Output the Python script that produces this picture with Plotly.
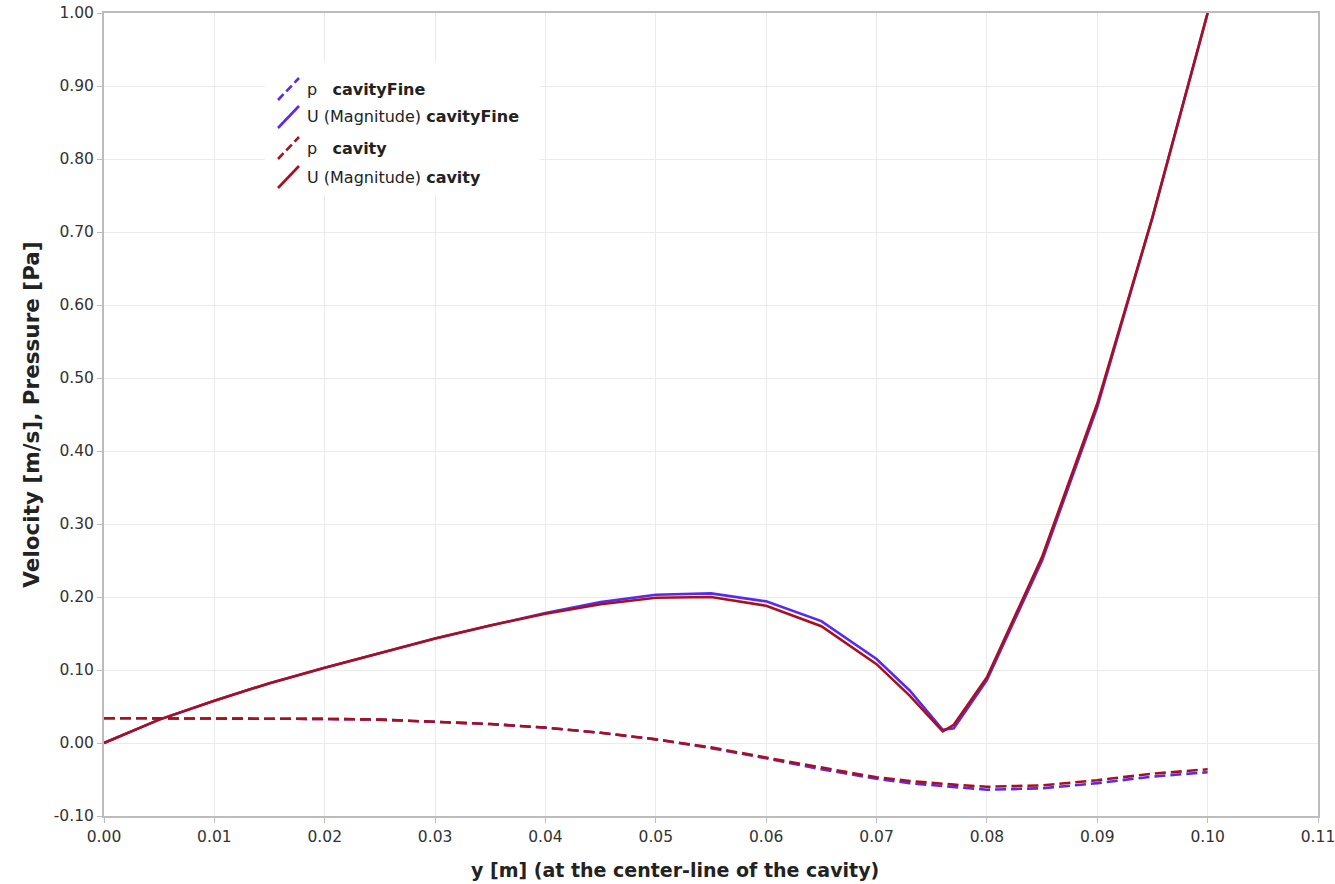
import plotly.graph_objects as go

# ---- data ----
y_pos = [0.0, 0.005, 0.01, 0.015, 0.02, 0.025, 0.03, 0.035, 0.04, 0.045, 0.05, 0.055,
         0.06, 0.065, 0.07, 0.073, 0.076, 0.077, 0.08, 0.085, 0.09, 0.095, 0.1]

u_cavity = [0.0, 0.032, 0.058, 0.082, 0.103, 0.123, 0.143, 0.161, 0.177, 0.190, 0.199, 0.200,
            0.188, 0.160, 0.108, 0.065, 0.016, 0.025, 0.090, 0.255, 0.465, 0.720, 1.000]
u_fine = [0.0, 0.032, 0.058, 0.082, 0.103, 0.123, 0.143, 0.161, 0.178, 0.193, 0.203, 0.205,
          0.194, 0.167, 0.115, 0.072, 0.018, 0.020, 0.086, 0.250, 0.460, 0.720, 1.000]

p_cavity = [0.034, 0.034, 0.034, 0.034, 0.033, 0.032, 0.029, 0.026, 0.021, 0.014, 0.005, -0.006,
            -0.020, -0.034, -0.047, -0.052, -0.056, -0.057, -0.060, -0.058, -0.051, -0.042, -0.036]
p_fine = [0.034, 0.034, 0.034, 0.034, 0.033, 0.032, 0.029, 0.026, 0.021, 0.014, 0.005, -0.007,
          -0.021, -0.036, -0.049, -0.055, -0.059, -0.060, -0.064, -0.062, -0.055, -0.046, -0.040]

x_ticks = [0.00, 0.01, 0.02, 0.03, 0.04, 0.05, 0.06, 0.07, 0.08, 0.09, 0.10, 0.11]
y_ticks = [-0.10, 0.00, 0.10, 0.20, 0.30, 0.40, 0.50, 0.60, 0.70, 0.80, 0.90, 1.00]
x_tick_text = ["0.00", "0.01", "0.02", "0.03", "0.04", "0.05", "0.06", "0.07", "0.08", "0.09", "0.10", "0.11"]
y_tick_text = ["-0.10", "0.00", "0.10", "0.20", "0.30", "0.40", "0.50", "0.60", "0.70", "0.80", "0.90", "1.00"]

series_names = [("p", "cavityFine"), ("U (Magnitude)", "cavityFine"),
                ("p", "cavity"), ("U (Magnitude)", "cavity")]
x_title = "y [m] (at the center-line of the cavity)"
y_title = "Velocity [m/s], Pressure [Pa]"

BLUE = "#5a28f0"
RED = "#a8101c"
FONT = "DejaVu Sans, sans-serif"

fig = go.Figure()
fig.add_trace(go.Scatter(x=y_pos, y=p_fine, mode="lines",
                         line=dict(color=BLUE, width=2.6, dash="11px,5px"), name="p cavityFine"))
fig.add_trace(go.Scatter(x=y_pos, y=u_fine, mode="lines",
                         line=dict(color=BLUE, width=2.6), name="U (Magnitude) cavityFine"))
fig.add_trace(go.Scatter(x=y_pos, y=p_cavity, mode="lines",
                         line=dict(color=RED, width=2.6, dash="11px,5px"), name="p cavity"))
fig.add_trace(go.Scatter(x=y_pos, y=u_cavity, mode="lines",
                         line=dict(color=RED, width=2.6), name="U (Magnitude) cavity"))

W, H = 1335, 884
ML, MR, MT, MB = 104, 17, 13, 68
PW, PH = W - ML - MR, H - MT - MB


def px(xp):
    return (xp - ML) / PW


def py(yp):
    return (H - MB - yp) / PH


shapes = [dict(type="rect", xref="paper", yref="paper", x0=px(265), x1=px(540),
               y0=py(195), y1=py(62), fillcolor="white", line=dict(width=0), layer="above")]
annotations = []
rows = [89, 117, 148, 177]
colors = [BLUE, BLUE, RED, RED]
dashes = ["dash", "solid", "dash", "solid"]
for (lab, src), r, c, d in zip(series_names, rows, colors, dashes):
    shapes.append(dict(type="line", xref="paper", yref="paper",
                       x0=px(278), y0=py(r + 11), x1=px(299), y1=py(r - 11),
                       line=dict(color=c, width=2.6, dash="8px,4px" if d == "dash" else "solid"),
                       layer="above"))
    gap = "&nbsp;&nbsp;&nbsp;" if lab == "p" else "&nbsp;"
    annotations.append(dict(xref="paper", yref="paper", x=px(305), y=py(r),
                            xanchor="left", yanchor="middle", showarrow=False,
                            text=f"{lab}{gap}<b>{src}</b>",
                            font=dict(family=FONT, size=16, color="#222222")))

# x-axis title (centred slightly left of the plot centre, as in the reference)
annotations.append(dict(xref="paper", yref="paper", x=px(675), y=py(870),
                        xanchor="center", yanchor="middle", showarrow=False,
                        text=f"<b>{x_title}</b>",
                        font=dict(family=FONT, size=19, color="#222222")))

fig.update_layout(
    width=W, height=H,
    margin=dict(l=ML, r=MR, t=MT, b=MB, autoexpand=False),
    paper_bgcolor="white", plot_bgcolor="white",
    showlegend=False,
    font=dict(family=FONT, size=15, color="#333333"),
    shapes=shapes, annotations=annotations,
)
fig.update_xaxes(range=[0, 0.11], tickvals=x_ticks, ticktext=x_tick_text,
                 automargin=False, ticklabeloverflow="allow",
                 tickfont=dict(family=FONT, size=15.5, color="#333333"),
                 showgrid=True, gridcolor="#ebebeb", gridwidth=1,
                 showline=True, linecolor="#bcbcbc", linewidth=2, mirror=True,
                 ticks="outside", ticklen=5, tickcolor="#bcbcbc",
                 zeroline=False)
fig.update_yaxes(range=[-0.10, 1.00], tickvals=y_ticks, ticktext=y_tick_text,
                 automargin=False, ticklabeloverflow="allow",
                 tickfont=dict(family=FONT, size=15.5, color="#333333"),
                 showgrid=True, gridcolor="#ebebeb", gridwidth=1,
                 showline=True, linecolor="#bcbcbc", linewidth=2, mirror=True,
                 ticks="outside", ticklen=5, tickcolor="#bcbcbc",
                 zeroline=False,
                 title=dict(text=f"<b>{y_title}</b>",
                            font=dict(size=21.5, family=FONT, color="#222222"), standoff=8))

fig.write_html("out.html")
